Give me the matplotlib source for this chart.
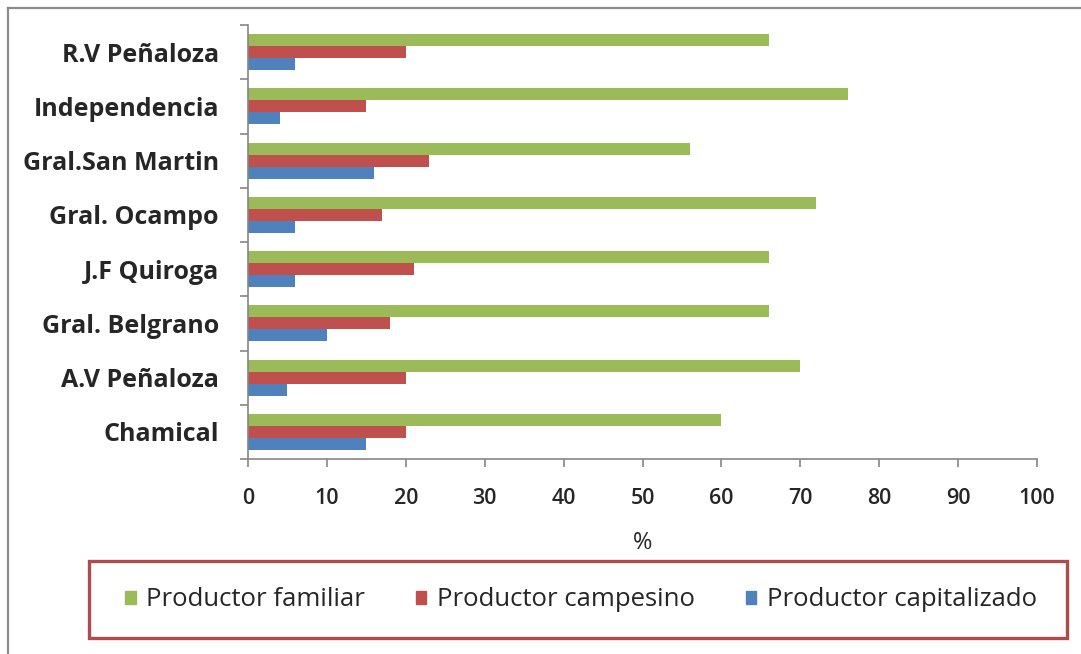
import matplotlib
matplotlib.use("Agg")
import matplotlib.pyplot as plt
import numpy as np
from matplotlib.patches import Rectangle
from matplotlib.lines import Line2D

categories = ["R.V Peñaloza", "Independencia", "Gral.San Martin", "Gral. Ocampo",
              "J.F Quiroga", "Gral. Belgrano", "A.V Peñaloza", "Chamical"]
familiar = [66, 76, 56, 72, 66, 66, 70, 60]
campesino = [20, 15, 23, 17, 21, 18, 20, 20]
capitalizado = [6, 4, 16, 6, 6, 10, 5, 15]
series_names = ["Productor familiar", "Productor campesino", "Productor capitalizado"]
colors = ["#9BBB59", "#C0504D", "#4F81BD"]
xticks = [0, 10, 20, 30, 40, 50, 60, 70, 80, 90, 100]

W, H = 1081, 654
fig = plt.figure(figsize=(W / 100, H / 100), dpi=100)
fig.patch.set_facecolor("white")

ax = fig.add_axes([248 / W, 1 - 459 / H, (1037 - 248) / W, (459 - 25) / H])

n = len(categories)
# category 0 at top
ypos = np.arange(n)[::-1] + 0.5
bh = 1 / 4.5
data = [familiar, campesino, capitalizado]
for i, (vals, c) in enumerate(zip(data, colors)):
    ax.barh(ypos + (1 - i) * bh, vals, height=bh, color=c, edgecolor="none", label=series_names[i])

ax.set_xlim(0, 100)
ax.set_ylim(0, n)
ax.set_xticks(xticks)
ax.set_xticklabels([str(v) for v in xticks])
ax.set_yticks(np.arange(n + 1))
ax.set_yticklabels([])
ax.set_yticks(ypos, minor=True)
ax.set_yticklabels(categories, minor=True)
ax.tick_params(axis="y", which="minor", length=0, pad=21, labelsize=18, labelcolor="#262626")
for lab in ax.get_yticklabels(minor=True):
    lab.set_fontweight("bold")
    lab.set_family("Open Sans")
ax.tick_params(axis="y", which="major", length=6, color="#868686", width=1.2)
ax.tick_params(axis="x", which="major", length=6, color="#868686", width=1.2, direction="out",
               pad=15, labelsize=15.5, labelcolor="#262626")
for lab in ax.get_xticklabels():
    lab.set_family("Open Sans")
    lab.set_fontweight("semibold")

for s in ["top", "right"]:
    ax.spines[s].set_visible(False)
for s in ["left", "bottom"]:
    ax.spines[s].set_color("#868686")
    ax.spines[s].set_linewidth(1.2)

ax.set_xlabel("%", fontsize=17, color="#262626", family="Open Sans", labelpad=16)

# Outer frame lines (top and left)
fig.add_artist(Line2D([8 / W, 1], [1 - 8 / H, 1 - 8 / H], transform=fig.transFigure,
                      color="#8c8c8c", lw=1.6))
fig.add_artist(Line2D([8 / W, 8 / W], [0, 1 - 8 / H], transform=fig.transFigure,
                      color="#8c8c8c", lw=1.6))

# Legend box
fig.add_artist(Rectangle((89 / W, 1 - 638 / H), (1067 - 89) / W, (638 - 561) / H,
                         transform=fig.transFigure, fill=False, edgecolor="#B04A4C", lw=2.4))
handles = [Rectangle((0, 0), 1, 1, color=c) for c in colors]
leg = fig.legend(handles, series_names, loc="center", bbox_to_anchor=(581 / W, 1 - 600 / H),
                 ncol=3, frameon=False, handlelength=0.4, handleheight=0.4, handletextpad=0.4,
                 columnspacing=2.0, prop={"family": "Open Sans", "size": 18.5})
for t in leg.get_texts():
    t.set_color("#262626")

fig.savefig("out.png", dpi=100, facecolor="white")
